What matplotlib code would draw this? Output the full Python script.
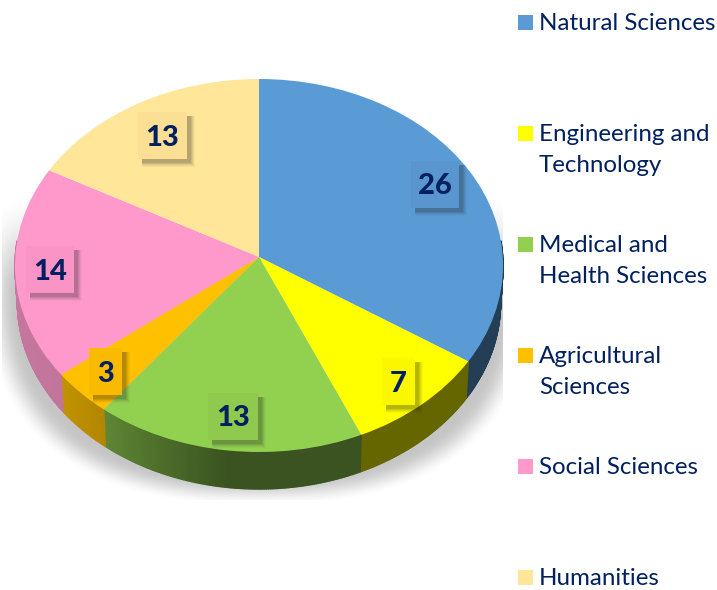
import numpy as np
import matplotlib
matplotlib.use("Agg")
import matplotlib.pyplot as plt
from matplotlib.collections import PolyCollection
from matplotlib.patches import Rectangle
from matplotlib.transforms import Transform

categories = ["Natural Sciences", "Engineering and\nTechnology", "Medical and\nHealth Sciences",
              "Agricultural\nSciences", "Social Sciences", "Humanities"]
values = [26, 7, 13, 3, 14, 13]
colors = ["#5B9BD5", "#FFFF00", "#92D050", "#FFC000", "#FF99CC", "#FFE699"]
NAVY = "#002060"
plt.rcParams["font.family"] = ["Lato", "DejaVu Sans"]

W, H = 717, 590
CX, AY = 259.0, 257.0
A, B, C = -174.4, 243.75, 0.0456
DEPTH = 37.0


def project(X, Y, lower=False):
    """Unit-circle pie plane -> tilted, perspective pixel plane."""
    d = C * Y + 1
    k = 0.99 if lower else 1.0
    return CX + k * B * X / d, (A * Y + AY) / d + (DEPTH if lower else 0.0)


class Tilt(Transform):
    input_dims = output_dims = 2
    has_inverse = False

    def transform_non_affine(self, xy):
        xy = np.asarray(xy, float)
        x, y = project(xy[:, 0], xy[:, 1])
        return np.column_stack([x, y])


fig = plt.figure(figsize=(W / 100, H / 100), dpi=100)
ax = fig.add_axes([0, 0, 1, 1])

# soft cast shadow
yy, xx = np.mgrid[0:H, 0:W] + 0.5
dx, dy = np.abs(xx - 259) / 270, np.abs(yy - 280) / 222
r = (dx ** 2.5 + dy ** 2.5) ** (1 / 2.5)
f = np.clip((1.02 - r) / 0.12, 0, 1)
f = f * f * (3 - 2 * f)
g = np.clip((yy - 190) / 110, 0, 1)
f = f * g * g * (3 - 2 * g)
img = 255 - 58 * f
img[(yy > 500) | (xx < 2) | (xx > 503)] = 255
ax.imshow(img, cmap="gray", vmin=0, vmax=255, extent=(0, W, H, 0), zorder=0, aspect="auto")

# top face: a real pie, tilted by a custom transform
wedges, _ = ax.pie(values, colors=colors, startangle=90, counterclock=False, radius=1,
                   wedgeprops=dict(linewidth=0))
tilt = Tilt() + ax.transData
for w_ in wedges:
    w_.set_transform(tilt)
    w_.set_zorder(3)

# side wall: per-slice shade stops, spread over the angle of the slice
shade = [(0.40, 0.40), (0.40, 0.40), (0.40, 0.40, 0.65), (0.70, 0.76), (0.76, 0.80), (0.8, 0.8)]
edges = np.concatenate([[0], np.cumsum(values)]) / np.sum(values) * 360.0
polys, fc = [], []
for i, col in enumerate(colors):
    lo, hi = max(edges[i], 85.0), min(edges[i + 1], 275.0)
    if hi <= lo:
        continue
    ts = np.linspace(lo, hi, int((hi - lo)) * 2 + 2)
    rgb = np.array(matplotlib.colors.to_rgb(col))
    stops = np.linspace(0, 1, len(shade[i]))
    for a, b in zip(ts[:-1], ts[1:]):
        frac = (0.5 * (a + b) - edges[i]) / (edges[i + 1] - edges[i])
        s = np.interp(frac, stops, shade[i])
        ra, rb = np.radians([a, b])
        xa, ya = np.sin(ra), np.cos(ra)
        xb, yb = np.sin(rb), np.cos(rb)
        polys.append([project(xa, ya), project(xb, yb), project(xb, yb, True), project(xa, ya, True)])
        fc.append(tuple(rgb * s))
ax.add_collection(PolyCollection(polys, facecolors=fc, edgecolors=fc, linewidths=1.0, zorder=2))

# value labels
boxes = [(411, 161, 48), (382, 358, 33), (208, 393, 50), (89, 348, 33), (26, 246, 48), (138, 112, 49)]
BH = 47
for v, col, (bx, by, bw) in zip(values, colors, boxes):
    for k, al in zip((4, 3, 2, 1, 0), (0.04, 0.05, 0.07, 0.09, 0.12)):
        ax.add_patch(Rectangle((bx + 4, by + 4), bw + k, BH + k, fc="#202020",
                               ec="none", alpha=al, zorder=4))
    rgb = np.array(matplotlib.colors.to_rgb(col)) * np.array([0.98, 0.97, 0.97])
    ax.add_patch(Rectangle((bx, by), bw, BH, fc=tuple(rgb), ec="none", zorder=5))
    ax.text(bx + bw / 2, by + BH / 2 + 2, str(v), color=NAVY, fontsize=21, fontweight=900,
            ha="center", va="center", zorder=6)

# legend
for i, (name, col) in enumerate(zip(categories, colors)):
    y = 22.5 + 111 * i
    ax.add_patch(Rectangle((518, y - 7.5), 15, 15, fc=col, ec="none", zorder=5))
    for j, line in enumerate(name.split("\n")):
        ax.text(539, y + 1 + 31 * j, line, color=NAVY, fontsize=17.4, ha="left", va="center", zorder=6)

ax.set_aspect("auto")
ax.set_xlim(0, W)
ax.set_ylim(H, 0)
ax.axis("off")
fig.savefig("out.png", dpi=100)
